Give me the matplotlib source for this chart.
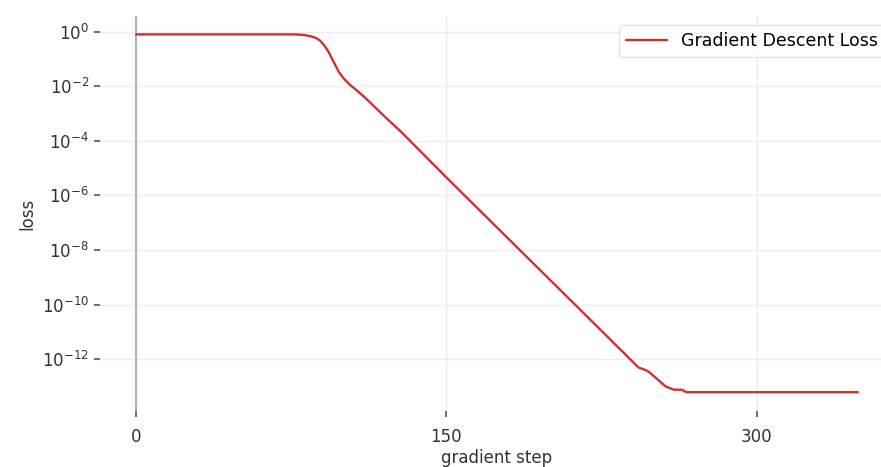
import matplotlib
matplotlib.use("Agg")
import matplotlib.pyplot as plt

steps = [0, 77, 81, 84, 87, 89, 91, 93, 96, 98, 100, 103, 107, 111, 121, 128,
         150, 205, 243, 246, 248, 250, 253, 256, 258, 260, 264, 266, 349]
loss = [7.94e-1, 7.94e-1, 7.59e-1, 6.92e-1, 5.89e-1, 4.68e-1, 3.09e-1, 1.86e-1,
        6.61e-2, 3.39e-2, 2.09e-2, 1.20e-2, 6.76e-3, 3.63e-3, 6.76e-4, 2.19e-4,
        4.57e-6, 3.47e-10, 4.90e-13, 4.07e-13, 3.4e-13, 2.51e-13, 1.58e-13,
        1.0e-13, 8.71e-14, 7.59e-14, 7.59e-14, 6.17e-14, 6.17e-14]
series_label = "Gradient Descent Loss"
x_ticks = [0, 150, 300]
y_ticks = [1e0, 1e-2, 1e-4, 1e-6, 1e-8, 1e-10, 1e-12]

plt.rcParams['font.family'] = ['DejaVu Sans']
fig = plt.figure(figsize=(8.81, 4.67), dpi=100)
ax = fig.add_axes([100/881, 56/467, 794/881, 395/467])

ax.plot(steps, loss, color='#d0302f', lw=1.7, label=series_label, zorder=3,
        solid_joinstyle='round', solid_capstyle='round')
ax.set_yscale('log')
ax.set_xlim(-17.45, 366.45)
ax.set_ylim(10**-13.9, 10**0.574)
ax.set_xticks(x_ticks)
ax.set_yticks(y_ticks)
ax.yaxis.set_minor_locator(matplotlib.ticker.NullLocator())

for s in ax.spines.values():
    s.set_visible(False)
ax.axvline(0, color='#aaaaaa', lw=1.3, zorder=2)
ax.grid(True, color='#ececec', lw=1.0, zorder=0)
ax.set_axisbelow(True)

ax.tick_params(axis='both', labelsize=12, colors='#555555', labelcolor='#333333',
               width=1.2, length=4.5, direction='out')
ax.tick_params(axis='x', pad=8)

ax.set_xlabel('gradient step', fontsize=12, color='#333333', labelpad=2)
ax.set_ylabel('loss', fontsize=12, color='#333333')

leg = ax.legend(loc='upper right', fontsize=12.5, frameon=True, handlelength=2.4)
leg.get_frame().set_edgecolor('#dddddd')

fig.savefig('out.png', dpi=100)
